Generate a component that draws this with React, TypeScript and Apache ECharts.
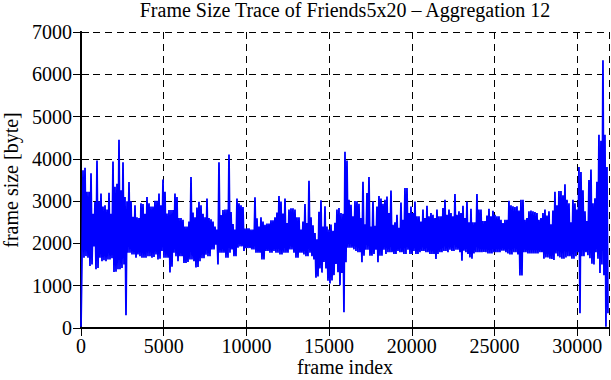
import React, { useEffect, useRef } from "react";
import * as echarts from "echarts";

const TITLE = "Frame Size Trace of Friends5x20 – Aggregation 12";
const X_NAME = "frame index";
const Y_NAME = "frame size [byte]";
const X_MAX = 31920;
const X_INTERVAL = 5000;
const Y_MAX = 7000;
const Y_INTERVAL = 1000;
// spacing (in frames) between the plotted samples of the aggregated trace
const FRAME_STEP = 60.45;

// frame sizes [byte] of the aggregated trace, in order of frame index
const SIZES: number[] = [
  30, 1660, 3730, 1660, 3790, 1700, 3220, 1660, 3220, 1465,
  3660, 1500, 2700, 1930, 2980, 1390, 3960, 1420, 3000, 1660,
  3180, 1580, 2870, 1600, 2900, 1580, 2800, 1620, 3200, 1620,
  2700, 1650, 3940, 1325, 3340, 1330, 3410, 1390, 4450, 1390,
  3260, 1420, 3920, 1500, 3100, 300, 3000, 1780, 3450, 1780,
  3000, 1740, 2630, 1740, 2900, 1660, 2620, 1740, 2600, 1700,
  2950, 1660, 2930, 1660, 2700, 1660, 3100, 1700, 2950, 1700,
  2870, 1660, 2870, 1680, 3010, 1740, 3010, 1620, 3180, 1640,
  2900, 1820, 3510, 1660, 3220, 1660, 2710, 1660, 2790, 1310,
  2790, 1450, 2790, 1780, 3180, 1700, 3100, 1580, 2600, 1700,
  2600, 1700, 2560, 1540, 2400, 1540, 2400, 1560, 2520, 1620,
  3570, 1620, 2730, 1580, 2620, 1430, 2850, 1440, 2985, 1580,
  2900, 1650, 2700, 1650, 2620, 1730, 3060, 1700, 2600, 1700,
  2570, 1855, 2520, 1855, 2400, 1970, 2330, 1500, 3920, 1780,
  2670, 1780, 2790, 1780, 2800, 1660, 2800, 1660, 4100, 1780,
  2740, 1855, 2460, 1700, 2330, 1700, 3060, 1900, 2950, 1930,
  2900, 1930, 2860, 1820, 2350, 1890, 2360, 1890, 2360, 1890,
  2330, 1855, 2330, 1855, 3090, 1780, 2595, 1780, 2400, 1780,
  2620, 1620, 2520, 1620, 2440, 1820, 2470, 1820, 2470, 1780,
  2550, 1780, 2550, 1820, 2620, 1780, 2730, 1780, 3120, 1740,
  2990, 1740, 2710, 1780, 3060, 1780, 2480, 1780, 2800, 1855,
  2830, 1855, 2830, 1780, 2800, 1660, 2620, 1660, 2620, 1780,
  2330, 1780, 2520, 1740, 2930, 1700, 2480, 1700, 3480, 1780,
  2620, 1700, 2430, 1620, 2245, 1190, 2100, 1220, 2750, 1410,
  3020, 1310, 2400, 1560, 2880, 1410, 2400, 1115, 2330, 1050,
  2450, 1125, 2300, 1250, 2490, 1515, 2800, 1320, 2840, 1010,
  2720, 1300, 2700, 370, 4170, 1555, 3960, 1900, 3030, 1900,
  2915, 1900, 2640, 1860, 3000, 1820, 3000, 1790, 2940, 1790,
  2600, 1555, 3460, 1710, 2450, 1850, 3190, 1850, 3570, 1710,
  2400, 1710, 3000, 1750, 2420, 1850, 2875, 1555, 3120, 1710,
  3060, 1710, 2940, 1850, 3030, 1750, 3110, 1790, 2720, 1790,
  3250, 1790, 2440, 1750, 2500, 1750, 2680, 1820, 2370, 1790,
  2970, 1790, 2560, 1750, 3310, 1750, 3310, 1850, 2720, 1750,
  2870, 1750, 2720, 1820, 2990, 1750, 2640, 1750, 2640, 1790,
  2520, 1820, 2800, 1820, 2600, 1790, 2890, 1790, 2640, 1750,
  2720, 1750, 2680, 1750, 2600, 1630, 2800, 1750, 2640, 1790,
  2640, 1790, 2840, 1820, 3030, 1820, 2680, 1790, 2800, 1850,
  2720, 1820, 2640, 1820, 3170, 1850, 2680, 1850, 2760, 1790,
  2720, 1590, 2890, 1830, 2600, 1790, 2990, 1750, 2500, 1670,
  2820, 1640, 2500, 1760, 2500, 1790, 3170, 1790, 2800, 1790,
  2800, 1790, 2530, 1800, 2530, 1790, 2660, 1760, 2820, 1760,
  2640, 1760, 2770, 1790, 2680, 1790, 2640, 1790, 2640, 1790,
  2560, 1830, 2480, 1830, 2560, 1790, 2560, 1760, 3010, 1740,
  2900, 1740, 2880, 1790, 2860, 1790, 2880, 1740, 2780, 1240,
  3030, 1240, 3030, 1790, 2560, 1790, 2600, 1760, 2760, 1760,
  2780, 1760, 2760, 1760, 2740, 1760, 2720, 1760, 2560, 1790,
  2600, 1790, 2720, 1640, 2800, 1670, 2660, 1670, 2760, 1640,
  2450, 1630, 2780, 1610, 3220, 1760, 2900, 1700, 3240, 1670,
  3240, 1640, 3140, 1640, 3400, 1670, 3030, 1700, 2950, 1700,
  2500, 1640, 3030, 1640, 2950, 1700, 2800, 1790, 3810, 350,
  3690, 1700, 3260, 1700, 2760, 1790, 2530, 1720, 3500, 1650,
  3750, 1520, 2950, 1500, 3070, 1790, 3460, 1640, 4570, 1300,
  4430, 1500, 6330, 1250, 4570, 30, 3810, 350,
];

const FONT = "'Liberation Serif', 'DejaVu Serif', serif";

export default function App() {
  const ref = useRef<HTMLDivElement>(null);

  useEffect(() => {
    if (!ref.current) return;
    const chart = echarts.init(ref.current, undefined, { renderer: "svg" });
    const data = SIZES.map((v, i) => [Math.round(i * FRAME_STEP), v]);
    const frame = { show: true, lineStyle: { color: "#000", width: 2 } };
    const tick = { show: true, inside: true, length: 8, lineStyle: { color: "#000", width: 1 } };
    const split = { show: true, lineStyle: { color: "#000", width: 1, type: [7, 5] as number[] } };
    const label = { color: "#000", fontSize: 20, fontFamily: FONT };
    chart.setOption({
      animation: false,
      backgroundColor: "#fff",
      title: {
        text: TITLE,
        left: 345,
        top: 0,
        padding: 0,
        textAlign: "center",
        textStyle: { color: "#000", fontSize: 20, fontWeight: "normal", fontFamily: FONT },
      },
      grid: {
        left: 81,
        right: 2,
        top: 32,
        bottom: 52,
        containLabel: false,
        outerBoundsMode: "none",
      },
      xAxis: [
        {
          type: "value",
          min: 0,
          max: X_MAX,
          interval: X_INTERVAL,
          position: "bottom",
          axisLine: frame,
          axisTick: tick,
          splitLine: split,
          axisLabel: {
            ...label,
            lineHeight: 20,
            margin: 8,
            formatter: (v: number) => (v % X_INTERVAL === 0 ? String(v) : ""),
          },
          name: X_NAME,
          nameLocation: "middle",
          nameGap: 29,
          nameMoveOverlap: false,
          nameTextStyle: { ...label, lineHeight: 20 },
        },
        {
          type: "value",
          min: 0,
          max: X_MAX,
          interval: X_INTERVAL,
          position: "top",
          axisLine: frame,
          axisTick: tick,
          splitLine: { show: false },
          axisLabel: { show: false },
        },
      ],
      yAxis: [
        {
          type: "value",
          min: 0,
          max: Y_MAX,
          interval: Y_INTERVAL,
          position: "left",
          axisLine: frame,
          axisTick: tick,
          splitLine: split,
          axisLabel: { ...label, margin: 9, formatter: (v: number) => String(v) },
          name: Y_NAME,
          nameLocation: "middle",
          nameGap: 60,
          nameMoveOverlap: false,
          nameRotate: 90,
          nameTextStyle: label,
        },
        {
          type: "value",
          min: 0,
          max: Y_MAX,
          interval: Y_INTERVAL,
          position: "right",
          axisLine: frame,
          axisTick: tick,
          splitLine: { show: false },
          axisLabel: { show: false },
        },
      ],
      series: [
        {
          type: "line",
          xAxisIndex: 0,
          yAxisIndex: 0,
          data,
          showSymbol: false,
          symbol: "none",
          lineStyle: { color: "#0000ff", width: 1.8, join: "miter", miterLimit: 2 },
          itemStyle: { color: "#0000ff" },
          z: 3,
        },
      ],
    });
    return () => chart.dispose();
  }, []);

  return (
    <div
      ref={ref}
      style={{ position: "absolute", left: 0, top: 0, width: 611, height: 380 }}
    />
  );
}
